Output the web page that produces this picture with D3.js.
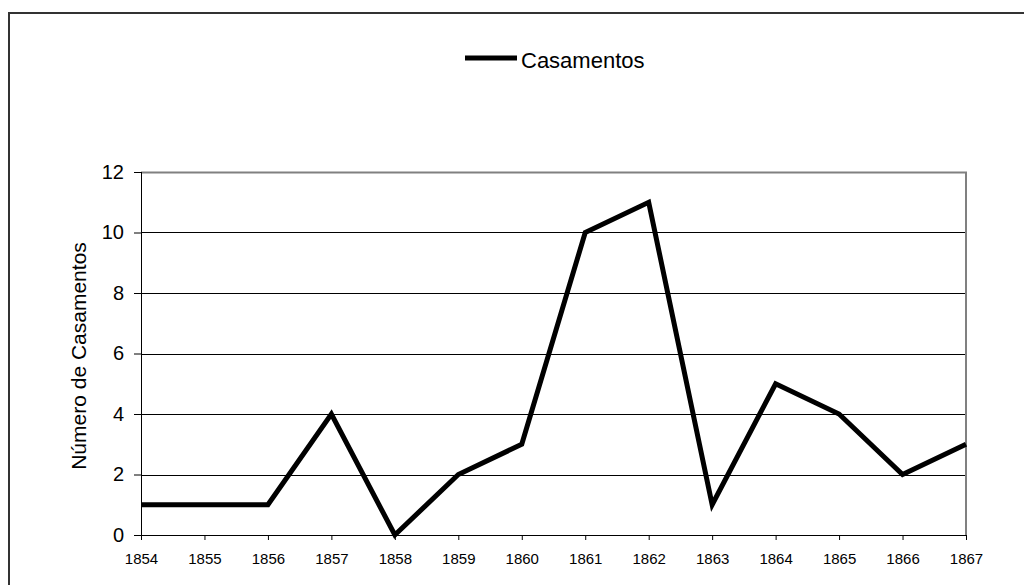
<!DOCTYPE html>
<html>
<head>
<meta charset="utf-8">
<script src="https://cdn.jsdelivr.net/npm/d3@7"></script>
<style>
  body { margin: 0; background: #fff; }
  svg { display: block; font-family: "Liberation Sans", Arial, sans-serif; }
</style>
</head>
<body>
<div id="chart"></div>
<script>
const years = [1854, 1855, 1856, 1857, 1858, 1859, 1860, 1861, 1862, 1863, 1864, 1865, 1866, 1867];
const casamentos = [1, 1, 1, 4, 0, 2, 3, 10, 11, 1, 5, 4, 2, 3];
const yTicks = [0, 2, 4, 6, 8, 10, 12];
const seriesName = "Casamentos";
const yTitle = "Número de Casamentos";

const width = 1024, height = 585;
const margin = { top: 172, right: 58, bottom: 50, left: 141 };
const innerW = width - margin.left - margin.right;
const innerH = 535 - margin.top;

const svg = d3.select("#chart").append("svg")
  .attr("width", width)
  .attr("height", height);

// outer chart frame (runs off the right and bottom edge)
svg.append("rect")
  .attr("x", 9).attr("y", 13)
  .attr("width", 1040).attr("height", 600)
  .attr("fill", "none")
  .attr("stroke", "#333")
  .attr("stroke-width", 2);

const g = svg.append("g").attr("transform", `translate(${margin.left},${margin.top})`);

const x = d3.scalePoint().domain(years).range([0, innerW]);
const y = d3.scaleLinear().domain([0, 12]).range([innerH, 0]);

// gridlines
g.append("g")
  .selectAll("line")
  .data(yTicks.filter(d => d > 0 && d < 12))
  .enter()
  .append("line")
  .attr("x1", 0).attr("x2", innerW)
  .attr("y1", d => Math.round(y(d)) + 0.5).attr("y2", d => Math.round(y(d)) + 0.5)
  .attr("stroke", "#000")
  .attr("stroke-width", 1);

// top and right plot border in grey
g.append("path")
  .attr("d", `M0,0.5H${innerW}V${innerH}`)
  .attr("fill", "none")
  .attr("stroke", "#808080")
  .attr("stroke-width", 2);

// axes
const yAxis = g.append("g")
  .call(d3.axisLeft(y).tickValues(yTicks).tickSize(7).tickPadding(10));
yAxis.select(".domain").attr("stroke", "#000").attr("d", `M0.5,0V${innerH}`);
yAxis.selectAll("text").style("font-size", "20px").attr("fill", "#000");

const xAxis = g.append("g")
  .attr("transform", `translate(0,${innerH})`)
  .call(d3.axisBottom(x).tickSize(5).tickPadding(13).tickSizeOuter(0));
xAxis.select(".domain").attr("stroke", "#000");
xAxis.selectAll("text").style("font-size", "15px").attr("fill", "#000");

// data line
const line = d3.line()
  .x((d, i) => x(years[i]))
  .y(d => y(d));

g.append("path")
  .datum(casamentos)
  .attr("d", line)
  .attr("fill", "none")
  .attr("stroke", "#000")
  .attr("stroke-width", 5)
  .attr("stroke-linejoin", "miter");

// y axis title
svg.append("text")
  .attr("transform", `translate(86,356) rotate(-90)`)
  .attr("text-anchor", "middle")
  .style("font-size", "21px")
  .text(yTitle);

// legend
const legend = svg.append("g").attr("transform", "translate(465,58)");
legend.append("line")
  .attr("x1", 0).attr("x2", 52)
  .attr("y1", 0).attr("y2", 0)
  .attr("stroke", "#000")
  .attr("stroke-width", 5);
legend.append("text")
  .attr("x", 56).attr("y", 10)
  .style("font-size", "22px")
  .text(seriesName);
</script>
</body>
</html>
